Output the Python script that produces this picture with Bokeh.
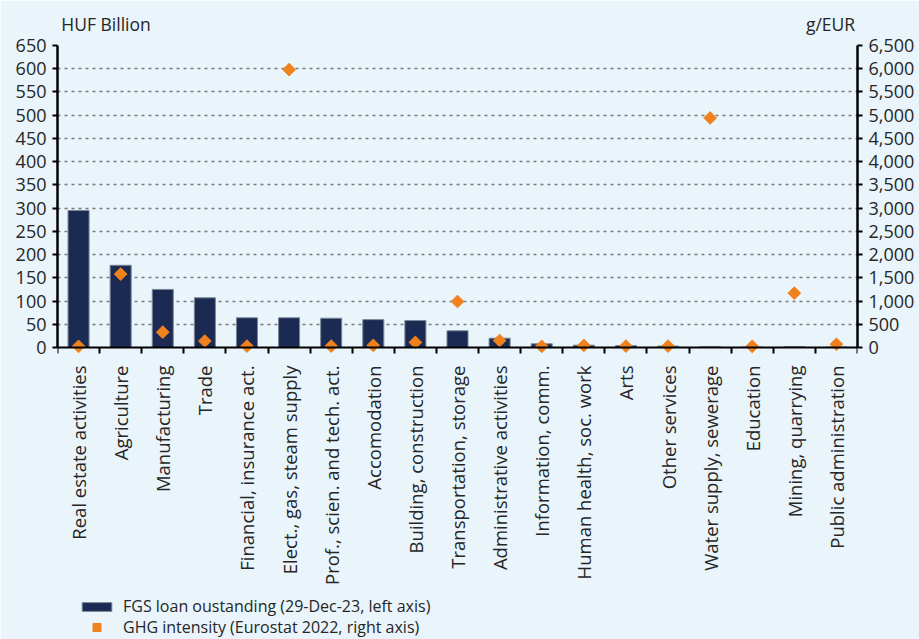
import numpy as np
from bokeh.plotting import figure
from bokeh.models import (Range1d, LinearAxis, FixedTicker, NumeralTickFormatter,
                          Legend, LegendItem, ColumnDataSource)
from bokeh.embed import file_html
from bokeh.resources import INLINE

# Sectors, ordered by FGS loan stock
sectors = [
    "Real estate activities", "Agriculture", "Manufacturing", "Trade",
    "Financial, insurance act.", "Elect., gas, steam supply",
    "Prof., scien. and tech. act.", "Accomodation", "Building, construction",
    "Transportation, storage", "Administrative activities", "Information, comm.",
    "Human health, soc. work", "Arts", "Other services", "Water supply, sewerage",
    "Education", "Mining, quarrying", "Public administration",
]
# FGS loan outstanding, HUF billion (left axis)
loans = [295, 177, 125, 107, 64, 64, 63, 60, 58, 36, 20, 8, 5, 4, 3, 1.5, 1, 1.5, 1]
# GHG intensity, g/EUR (right axis)
ghg = [25, 1580, 330, 140, 30, 5980, 30, 45, 110, 990, 150, 25, 45, 30, 30, 4940, 25, 1170, 70]

left_ticks = list(range(0, 651, 50))
right_ticks = list(range(0, 6501, 500))
unit_left = "HUF Billion"
unit_right = "g/EUR"

FONT = "Open Sans"
TXT = "#262626"
BG = "#e9f4fb"

# The plotting frame runs down to the bottom edge so that the sector labels and
# the legend live inside it; the value scale keeps 302 px for 0..650.
PLOT_PX, FRAME_PX = 302, 594
y_lo = -(FRAME_PX - PLOT_PX) / PLOT_PX * 650
r_lo = y_lo * 10

x = np.arange(len(sectors)) + 0.5
src = ColumnDataSource(dict(x=x, loans=loans, ghg=ghg, name=sectors))

p = figure(
    frame_width=800, frame_height=FRAME_PX,
    min_border_left=57, min_border_right=62, min_border_top=45, min_border_bottom=0,
    x_range=Range1d(0, len(sectors)), y_range=Range1d(y_lo, 650),
    output_backend="svg", toolbar_location=None,
    background_fill_color=BG, border_fill_color=BG,
)
p.outline_line_color = None
p.extra_y_ranges = {"ghg": Range1d(r_lo, 6500)}

# horizontal dotted grid
p.xgrid.grid_line_color = None
p.ygrid.ticker = FixedTicker(ticks=left_ticks[1:])
p.ygrid.grid_line_color = "#7a7a7a"
p.ygrid.grid_line_dash = "3 4"
p.ygrid.grid_line_width = 1.5

bars = p.vbar(x="x", top="loans", bottom=0, width=0.5, source=src,
              fill_color="#1b2a52", line_color="#7d8898", line_width=1)
pts = p.scatter(x="x", y="ghg", source=src, y_range_name="ghg", marker="square",
                angle=np.pi / 4, size=9, fill_color="#f0821e", line_color="#f0821e")

# category axis on the zero line: labels at sector centres (reading upwards),
# tick marks between sectors
xa = p.xaxis[0]
xa.fixed_location = 0
xa.ticker = FixedTicker(ticks=list(x), minor_ticks=list(range(len(sectors) + 1)))
xa.major_label_overrides = {float(v): s for v, s in zip(x, sectors)}
xa.major_label_orientation = np.pi / 2
xa.major_tick_line_color = None
xa.major_tick_out = 0
xa.minor_tick_out = 6
xa.minor_tick_in = 0
xa.minor_tick_line_width = 2
xa.minor_tick_line_color = "black"
xa.axis_line_width = 2
xa.axis_line_color = "black"
xa.major_label_standoff = 12
xa.major_label_text_font = FONT
xa.major_label_text_font_size = "18.5px"
xa.major_label_text_color = TXT


def style_value_axis(ax):
    ax.minor_tick_line_color = None
    ax.major_tick_out = 5
    ax.major_tick_in = 0
    ax.major_tick_line_width = 2
    ax.axis_line_width = 2.5
    ax.axis_line_color = "black"
    ax.major_label_standoff = 6
    ax.major_label_text_font = FONT
    ax.major_label_text_font_size = "18px"
    ax.major_label_text_color = TXT


ya = p.yaxis[0]
ya.ticker = FixedTicker(ticks=left_ticks)
ya.bounds = (0, 650)
style_value_axis(ya)

ra = LinearAxis(y_range_name="ghg", ticker=FixedTicker(ticks=right_ticks),
                formatter=NumeralTickFormatter(format="0,0"), bounds=(0, 6500))
style_value_axis(ra)
p.add_layout(ra, "right")

# unit captions over the two value axes, set as labels of a bare top axis
cap_pos = [1.152, 18.36]
top = LinearAxis(ticker=FixedTicker(ticks=cap_pos),
                 major_label_overrides={cap_pos[0]: unit_left, cap_pos[1]: unit_right})
top.axis_line_color = None
top.major_tick_line_color = None
top.minor_tick_line_color = None
top.major_tick_out = 0
top.major_label_standoff = 10
top.major_label_text_font = FONT
top.major_label_text_font_size = "17.5px"
top.major_label_text_color = TXT
p.add_layout(top, "above")


def legend_row(label, renderer, glyph_h, offset_y):
    lg = Legend(items=[LegendItem(label=label, renderers=[renderer])],
                location=(21, offset_y))
    lg.glyph_width = 37
    lg.glyph_height = glyph_h
    lg.label_height = 20
    lg.spacing = 0
    lg.label_standoff = 8
    lg.padding = 0
    lg.margin = 0
    lg.border_line_color = None
    lg.background_fill_alpha = 0
    lg.label_text_font = FONT
    lg.label_text_font_size = "16px"
    lg.label_text_color = TXT
    return lg


p.add_layout(legend_row("FGS loan oustanding (29-Dec-23, left axis)", bars, 11, 22), "center")
p.add_layout(legend_row("GHG intensity (Eurostat 2022, right axis)", pts, 20, 1), "center")

open("out.html", "w").write(file_html(p, INLINE))
